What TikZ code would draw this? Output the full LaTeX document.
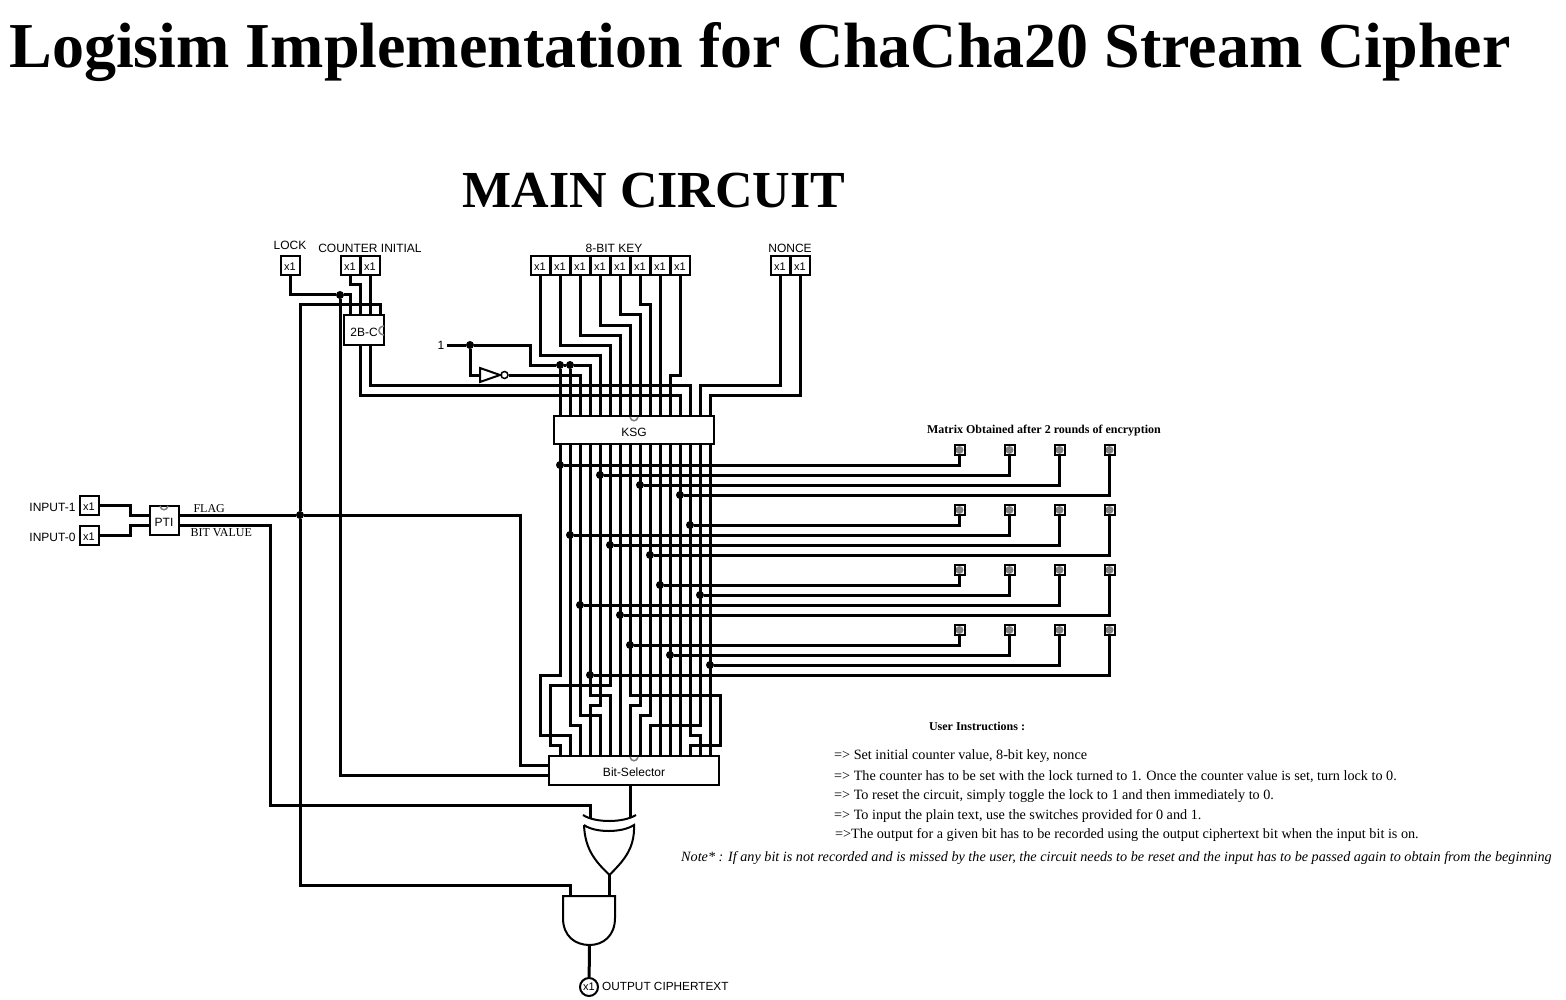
\documentclass[tikz,border=0pt]{standalone}
\usepackage{fontspec}
\setmainfont{Liberation Serif}
\setsansfont{Liberation Sans}
\tikzset{
  wire/.style={line width=3pt},
  gatebody/.style={line width=2pt},
  clockmark/.style={line width=1.5pt,gray},
  box/.style={draw,line width=2pt,fill=white,font=\sffamily\fontsize{12}{14}\selectfont,inner sep=0pt,text height=13pt,text depth=0pt},
  pinbox/.style={box,minimum size=19pt,font=\sffamily\fontsize{11}{13}\selectfont,text height=10pt},
  outbox/.style={draw,line width=2pt,minimum size=10pt,inner sep=0pt,
    path picture={\fill[gray] (path picture bounding box.center) circle (4pt);}},
  dot/.style={circle,fill=black,inner sep=0pt,minimum size=8pt},
  lbl/.style={font=\sffamily\fontsize{12}{14}\selectfont},
  serif/.style={font=\rmfamily\fontsize{12}{14}\selectfont,anchor=west},
  instr/.style={font=\rmfamily\fontsize{14.2}{16}\selectfont,anchor=west,inner sep=0pt},
  boldtxt/.style={font=\rmfamily\bfseries\fontsize{12}{14}\selectfont},
}
\begin{document}
\begin{tikzpicture}[x=1pt,y=-1pt]
  \useasboundingbox (0,0) rectangle (1566,1000);

  \node[font=\rmfamily\bfseries\fontsize{64}{70}\selectfont] (title) at (760,52){Logisim Implementation for ChaCha20 Stream Cipher};
  \node[font=\rmfamily\bfseries\fontsize{52}{60}\selectfont] (maintitle) at (654,191){MAIN CIRCUIT};

  \foreach \i in {0,...,15}{
    \coordinate (ki\i) at (560+10*\i,415);
    \coordinate (ko\i) at (560+10*\i,444);
    \coordinate (bi\i) at (560+10*\i,755);
  }

  \node[pinbox] (lock) at (290,265.5){x1};
    \node[lbl] (locktxt) at (290,245){LOCK};
  \node[pinbox] (cnt1) at (350,265.5){x1};
  \node[pinbox] (cnt2) at (370,265.5){x1};
    \node[lbl] (cnttxt) at (370,248){COUNTER INITIAL};
  \node[pinbox] (key1) at (540,265.5){x1};
  \node[pinbox] (key2) at (560,265.5){x1};
  \node[pinbox] (key3) at (580,265.5){x1};
  \node[pinbox] (key4) at (600,265.5){x1};
  \node[pinbox] (key5) at (620,265.5){x1};
  \node[pinbox] (key6) at (640,265.5){x1};
  \node[pinbox] (key7) at (660,265.5){x1};
  \node[pinbox] (key8) at (680,265.5){x1};
    \node[lbl] (keytxt) at (614,248){8-BIT KEY};
  \node[pinbox] (nonce1) at (780,265.5){x1};
  \node[pinbox] (nonce2) at (800,265.5){x1};
    \node[lbl] (noncetxt) at (790,248){NONCE};
  \node[pinbox] (in1) at (89,505.5){x1};
    \node[lbl,anchor=east] (in1txt) at (79,507){INPUT-1};
  \node[pinbox] (in0) at (89,535.5){x1};
    \node[lbl,anchor=east] (in0txt) at (79,537){INPUT-0};

  \node[box,minimum width=40pt,minimum height=29pt] (counter) at (364,330){2B-C};
    \coordinate (cl1) at (350,315);
    \coordinate (cl2) at (360,315);
    \coordinate (cl3) at (370,315);
    \coordinate (cl4) at (380,315);
    \coordinate (cq1) at (360,345);
    \coordinate (cq2) at (370,345);
  \node[box,minimum width=160pt,minimum height=28pt] (ksg) at (634,429.5){KSG};
  \node[box,minimum width=170pt,minimum height=29pt] (bitsel) at (634,770){Bit-Selector};
    \coordinate (bsa) at (549,765);
    \coordinate (bsb) at (549,775);
    \coordinate (bsq) at (630,785);
  \node[box,minimum width=29pt,minimum height=29pt] (pti) at (164,520){PTI};
    \coordinate (pta) at (150,515);
    \coordinate (ptb) at (150,525);
    \coordinate (ptf) at (179,515);
    \coordinate (ptv) at (179,525);
    \node[serif] (flagtxt) at (190,509){FLAG};
    \node[serif] (bittxt) at (187,533){BIT VALUE};

  \draw[clockmark] (630,417) .. controls (631,422) and (637,422) .. (638,417);
  \draw[clockmark] (630,757) .. controls (631,762) and (637,762) .. (638,757);
  \draw[clockmark] (160,506) .. controls (161,511) and (167,511) .. (168,506);
  \draw[clockmark] (384,326) .. controls (377,327) and (377,334) .. (384,335);

  \node[lbl,inner sep=2pt] (one) at (441,345){1};
  \node[dot] (done) at (470,345){};
  \node[dot] (dcona) at (560,365){};
  \node[dot] (dconb) at (570,365){};
  \node[dot] (dlock) at (340,295){};
  \node[dot] (dflag) at (300,515){};

  \coordinate (notin) at (480,375);
  \draw[gatebody] (480,368) -- (500,375) -- (480,382) -- cycle;
  \node[draw,circle,line width=1.5pt,inner sep=0pt,minimum size=7pt] (notout) at (504.5,375){};

  \draw[wire] (lock) |- (dlock);
  \draw[wire] (dlock) -| (cl1);
  \draw[wire] (cnt1) |- (360,285) -- (cl2);
  \draw[wire] (cnt2) -- (cl3);
  \draw[wire] (cl4) -- (380,305) -| (dflag);
  \draw[wire] (dlock) |- (bsb);
  \draw[wire] (one) -- (done);
  \draw[wire] (done) -| (530,365) -- (dcona);
  \draw[wire] (dcona) -- (dconb);
  \draw[wire] (dconb) -| (ki3);
  \draw[wire] (dcona) -- (ki0);
  \draw[wire] (dconb) -- (ki1);
  \draw[wire] (done) |- (notin);
  \draw[wire] (notout) -| (ki2);
  \draw[wire] (cq2) |- (690,385) -- (ki13);
  \draw[wire] (cq1) |- (680,395) -- (ki12);

  \draw[wire] (key1) |- (600,355) -- (ki4);
  \draw[wire] (key2) |- (610,345) -- (ki5);
  \draw[wire] (key3) |- (620,335) -- (ki6);
  \draw[wire] (key4) |- (630,325) -- (ki7);
  \draw[wire] (key5) |- (640,315) -- (ki8);
  \draw[wire] (key6) |- (650,305) -- (ki9);
  \draw[wire] (key7) -- (ki10);
  \draw[wire] (key8) |- (670,375) -- (ki11);
  \draw[wire] (nonce1) |- (700,385) -- (ki14);
  \draw[wire] (nonce2) |- (710,395) -- (ki15);

  \draw[wire] (ko0) |- (540,675) |- (570,735) -- (bi1);
  \draw[wire] (ko1) |- (580,725) -- (bi2);
  \draw[wire] (ko2) |- (600,715) -- (bi4);
  \draw[wire] (ko3) |- (610,695) -- (bi5);
  \draw[wire] (ko4) |- (590,705) -- (bi3);
  \draw[wire] (ko5) |- (550,685) |- (560,745) -- (bi0);
  \draw[wire] (ko6) -- (bi6);
  \draw[wire] (ko7) |- (720,695) |- (690,745) -- (bi13);
  \draw[wire] (ko8) |- (630,705) -- (bi7);
  \draw[wire] (ko9) |- (640,715) -- (bi8);
  \draw[wire] (ko10) -- (bi10);
  \draw[wire] (ko11) -- (bi11);
  \draw[wire] (ko12) -- (bi12);
  \draw[wire] (ko13) |- (700,735) -- (bi14);
  \draw[wire] (ko14) |- (650,725) -- (bi9);
  \draw[wire] (ko15) -- (bi15);

  \node[boldtxt] (mattxt) at (1044,431){Matrix Obtained after 2 rounds of encryption};
  \node[outbox] (m11) at (959.5,450){};
  \node[outbox] (m12) at (1009.5,450){};
  \node[outbox] (m13) at (1059.5,450){};
  \node[outbox] (m14) at (1109.5,450){};
  \node[outbox] (m21) at (959.5,510){};
  \node[outbox] (m22) at (1009.5,510){};
  \node[outbox] (m23) at (1059.5,510){};
  \node[outbox] (m24) at (1109.5,510){};
  \node[outbox] (m31) at (959.5,570){};
  \node[outbox] (m32) at (1009.5,570){};
  \node[outbox] (m33) at (1059.5,570){};
  \node[outbox] (m34) at (1109.5,570){};
  \node[outbox] (m41) at (959.5,630){};
  \node[outbox] (m42) at (1009.5,630){};
  \node[outbox] (m43) at (1059.5,630){};
  \node[outbox] (m44) at (1109.5,630){};

  \node[dot] (d11) at (560,465){};
  \node[dot] (d12) at (600,475){};
  \node[dot] (d13) at (640,485){};
  \node[dot] (d14) at (680,495){};
  \node[dot] (d21) at (690,525){};
  \node[dot] (d22) at (570,535){};
  \node[dot] (d23) at (610,545){};
  \node[dot] (d24) at (650,555){};
  \node[dot] (d31) at (660,585){};
  \node[dot] (d32) at (700,595){};
  \node[dot] (d33) at (580,605){};
  \node[dot] (d34) at (620,615){};
  \node[dot] (d41) at (630,645){};
  \node[dot] (d42) at (670,655){};
  \node[dot] (d43) at (710,665){};
  \node[dot] (d44) at (590,675){};

  \draw[wire] (d11) -| (m11);
  \draw[wire] (d12) -| (m12);
  \draw[wire] (d13) -| (m13);
  \draw[wire] (d14) -| (m14);
  \draw[wire] (d21) -| (m21);
  \draw[wire] (d22) -| (m22);
  \draw[wire] (d23) -| (m23);
  \draw[wire] (d24) -| (m24);
  \draw[wire] (d31) -| (m31);
  \draw[wire] (d32) -| (m32);
  \draw[wire] (d33) -| (m33);
  \draw[wire] (d34) -| (m34);
  \draw[wire] (d41) -| (m41);
  \draw[wire] (d42) -| (m42);
  \draw[wire] (d43) -| (m43);
  \draw[wire] (d44) -| (m44);

  \draw[wire] (in1) -| (130,515) -- (pta);
  \draw[wire] (in0) -| (130,525) -- (ptb);
  \draw[wire] (ptf) -- (dflag);
  \draw[wire] (dflag) -| (520,765) -- (bsa);
  \draw[wire] (ptv) -| (270,805) -| (590,818);

  \coordinate (xorb) at (630,818);
  \coordinate (xorq) at (609.5,875);
  \coordinate (anda) at (570,895);
  \coordinate (andb) at (609.5,895);
  \coordinate (andq) at (589.5,945);
  \node[draw,circle,line width=2pt,inner sep=0pt,minimum size=18pt,font=\sffamily\fontsize{11}{13}\selectfont] (out) at (589,987){x1};
  \node[lbl,anchor=west,inner sep=0pt,font=\sffamily\fontsize{11.8}{14}\selectfont] (outtxt) at (602,986){OUTPUT CIPHERTEXT};

  \draw[wire] (bsq) -- (xorb);
  \draw[gatebody] (583,815) .. controls (595,823) and (623,823) .. (636,815);
  \draw[gatebody] (584,825) .. controls (595,833) and (622,833) .. (634,825)
     .. controls (635,850) and (622,862) .. (xorq)
     .. controls (596,862) and (585,850) .. (584,825);
  \draw[wire] (xorq) -- (andb);
  \draw[wire] (dflag) |- (570,885) -- (anda);
  \draw[gatebody] (563,896) -- (615,896) -- (615,918)
     .. controls (615,936) and (603,945) .. (andq)
     .. controls (575,945) and (563,936) .. (563,918) -- cycle;
  \draw[wire] (andq) -- (out);

  \node[boldtxt] (usertxt) at (977,726){User Instructions :};
  \node[instr] (ins1) at (834,756.5){=> Set initial counter value, 8-bit key, nonce};
  \node[instr] (ins2) at (834,776.5){=> The counter has to be set with the lock turned to 1. Once the counter value is set, turn lock to 0.};
  \node[instr] (ins3) at (834,796.5){=> To reset the circuit, simply toggle the lock to 1 and then immediately to 0.};
  \node[instr] (ins4) at (834,816.5){=> To input the plain text, use the switches provided for 0 and 1.};
  \node[instr] (ins5) at (835,835.5){=>The output for a given bit has to be recorded using the output ciphertext bit when the input bit is on.};
  \node[instr,font=\rmfamily\itshape\fontsize{14.2}{16}\selectfont] (notetxt) at (681,858.5){Note* : If any bit is not recorded and is missed by the user, the circuit needs to be reset and the input has to be passed again to obtain from the beginning};
\end{tikzpicture}
\end{document}
